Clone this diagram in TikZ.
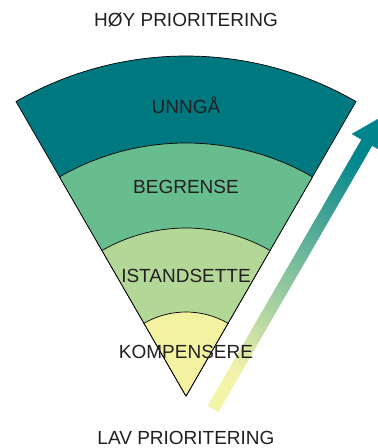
\documentclass[tikz,border=0pt]{standalone}
\usepackage{fontspec}
\setmainfont{Liberation Sans}
\definecolor{tealdark}{HTML}{007880}
\definecolor{greenmid}{HTML}{68BD8F}
\definecolor{greenlight}{HTML}{B3D797}
\definecolor{yellowlight}{HTML}{F3F2A1}
\definecolor{textgray}{HTML}{231F20}
\begin{document}
\begin{tikzpicture}[x=1pt,y=1pt,
				every node/.style={anchor=base,text=textgray,inner sep=0pt,
					font=\fontsize{19}{22}\selectfont},
				ring/.style={draw=black,line width=0.7pt,line join=round}]
\clip (-186,-52) rectangle (192,396);
\fill[white] (-186,-52) rectangle (192,396);
\filldraw[ring,fill=tealdark] (0,0) -- (60:340) arc (60:120:340) -- cycle;
\filldraw[ring,fill=greenmid] (0,0) -- (60:253) arc (60:120:253) -- cycle;
\filldraw[ring,fill=greenlight] (0,0) -- (60:168) arc (60:120:168) -- cycle;
\filldraw[ring,fill=yellowlight] (0,0) -- (60:84) arc (60:120:84) -- cycle;
\begin{scope}[shift={(27,-13)},rotate=60]
\shade[bottom color=yellowlight!90!white,middle color=greenmid!70!greenlight,
	top color=tealdark!90!cyan,shading angle=-30]
	(0,-6.25) -- (307.5,-6.25) -- (307.5,-17.5) -- (337.5,0)
	-- (307.5,17.5) -- (307.5,6.25) -- (0,6.25) -- cycle;
\end{scope}
\node (unnga) at (0,283) {UNNGÅ};
\node (begrense) at (0,203) {BEGRENSE};
\node (istandsette) at (0,114) {ISTANDSETTE};
\node (kompensere) at (0,38) {KOMPENSERE};
\node (hoy) at (0,369) {HØY PRIORITERING};
\node (lav) at (0,-48) {LAV PRIORITERING};
\end{tikzpicture}
\end{document}
